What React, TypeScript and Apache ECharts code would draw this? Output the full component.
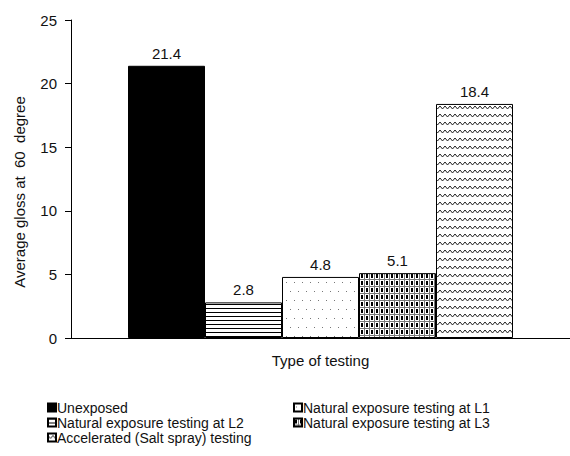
import React, { useEffect, useRef } from "react";
import * as echarts from "echarts";

const categories = ["Type of testing"];
const seriesNames = [
  "Unexposed",
  "Natural exposure testing at L2",
  "Natural exposure testing at L1",
  "Natural exposure testing at L3",
  "Accelerated (Salt spray) testing",
];
const seriesValues = [21.4, 2.8, 4.8, 5.1, 18.4];
const yTicks = { min: 0, max: 25, interval: 5 };
const legendCol1 = ["Unexposed", "Natural exposure testing at L2", "Accelerated (Salt spray) testing"];
const legendCol2 = ["Natural exposure testing at L1", "Natural exposure testing at L3"];

function makeCanvas(w: number, h: number, draw: (ctx: CanvasRenderingContext2D) => void) {
  const c = document.createElement("canvas");
  c.width = w;
  c.height = h;
  const ctx = c.getContext("2d")!;
  ctx.fillStyle = "#ffffff";
  ctx.fillRect(0, 0, w, h);
  draw(ctx);
  return c;
}

function patterns() {
  const hlines = makeCanvas(8, 4, (ctx) => {
    ctx.fillStyle = "#000";
    ctx.fillRect(0, 0, 8, 1);
  });
  const dots = makeCanvas(16, 18, (ctx) => {
    ctx.fillStyle = "#777";
    ctx.fillRect(2, 3, 1, 1);
    ctx.fillRect(10, 3, 1, 1);
    ctx.fillRect(6, 12, 1, 1);
    ctx.fillRect(14, 12, 1, 1);
  });
  const weave = makeCanvas(5, 7, (ctx) => {
    ctx.fillStyle = "#000";
    ctx.fillRect(1, 1, 2, 4);
    ctx.fillStyle = "#777";
    ctx.fillRect(0, 6, 5, 1);
    ctx.fillRect(4, 0, 1, 7);
  });
  const wave = makeCanvas(10, 8, (ctx) => {
    ctx.strokeStyle = "#222";
    ctx.lineWidth = 1;
    ctx.beginPath();
    ctx.moveTo(0, 2);
    ctx.lineTo(2.5, 5);
    ctx.lineTo(5, 2);
    ctx.lineTo(7.5, 5);
    ctx.lineTo(10, 2);
    ctx.stroke();
  });
  return [
    "#000000",
    { image: hlines, repeat: "repeat" },
    { image: dots, repeat: "repeat" },
    { image: weave, repeat: "repeat" },
    { image: wave, repeat: "repeat" },
  ];
}

const FONT = "Liberation Sans, Arial, sans-serif";

export default function App() {
  const ref = useRef<HTMLDivElement>(null);
  useEffect(() => {
    const chart = echarts.init(ref.current!, null, { renderer: "svg" });
    const fills = patterns();
    const legendBase = {
      orient: "vertical" as const,
      itemWidth: 8,
      itemHeight: 8,
      itemGap: 0,
      icon: "rect",
      textStyle: {
        fontFamily: FONT,
        fontSize: 14,
        lineHeight: 15,
        color: "#111",
        padding: [0, 0, 0, -4],
      },
      padding: 0,
      top: 400,
    };
    chart.setOption({
      animation: false,
      textStyle: { fontFamily: FONT },
      grid: { left: 71, right: 0, top: 20, bottom: 118 },
      legend: [
        { ...legendBase, left: 47, data: legendCol1 },
        { ...legendBase, left: 293, data: legendCol2 },
      ],
      xAxis: {
        type: "category",
        data: categories,
        name: "Type of testing",
        nameLocation: "middle",
        nameGap: 15,
        nameTextStyle: { fontFamily: FONT, fontSize: 15, color: "#111" },
        axisLine: { lineStyle: { color: "#000", width: 1 } },
        axisTick: { show: false },
        axisLabel: { show: false },
      },
      yAxis: {
        type: "value",
        min: yTicks.min,
        max: yTicks.max,
        interval: yTicks.interval,
        name: "Average gloss at  60  degree",
        nameLocation: "middle",
        nameGap: 44,
        nameTextStyle: {
          fontFamily: FONT,
          fontSize: 15,
          color: "#111",
          padding: [0, 26, 0, 0],
        },
        axisLine: { show: true, lineStyle: { color: "#000", width: 1 } },
        axisTick: { show: true, length: 6, lineStyle: { color: "#000" } },
        axisLabel: { fontFamily: FONT, fontSize: 15, color: "#111", margin: 14 },
        splitLine: { show: false },
      },
      series: seriesNames.map((name, i) => ({
        name,
        type: "bar",
        data: [seriesValues[i]],
        barWidth: 77,
        barGap: "0%",
        itemStyle: { color: fills[i], borderColor: "#000", borderWidth: 1 },
        label: {
          show: true,
          position: "top",
          distance: 5,
          fontFamily: FONT,
          fontSize: 15,
          color: "#111",
          formatter: (p: any) => p.value.toFixed(1),
        },
      })),
    });
    return () => chart.dispose();
  }, []);
  return (
    <div
      ref={ref}
      style={{ position: "fixed", left: 0, top: 0, width: 570, height: 456, background: "#fff" }}
    />
  );
}
